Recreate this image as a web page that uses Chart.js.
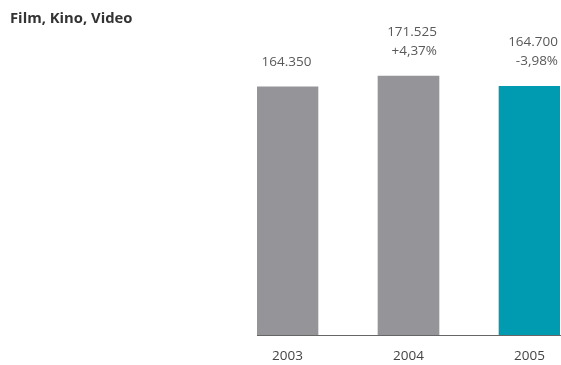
<!DOCTYPE html>
<html>
<head>
<meta charset="utf-8">
<script src="https://cdn.jsdelivr.net/npm/chart.js@4/dist/chart.umd.min.js"></script>
<style>
  html, body { margin: 0; padding: 0; background: #fff; }
  #wrap { width: 561px; height: 365px; position: relative; }
</style>
</head>
<body>
<div id="wrap"><canvas id="chart"></canvas></div>
<script>
// Data
const years = ['2003', '2004', '2005'];
const values = [164350, 171525, 164700];
const changes = ['', '+4,37%', '-3,98%'];
const barColors = ['#959498', '#959498', '#009bb0'];
const chartTitle = 'Film, Kino, Video';

function formatNumber(n) {
    return String(n).replace(/\B(?=(\d{3})+(?!\d))/g, '.');
}

// Title + value labels drawn on the canvas
const labelPlugin = {
    id: 'labels',
    afterDraw(chart) {
        const ctx = chart.ctx;
        ctx.save();
        ctx.fillStyle = '#333';
        ctx.font = 'bold 14.8px "Open Sans"';
        ctx.textBaseline = 'middle';
        ctx.textAlign = 'left';
        ctx.fillText(chartTitle, 10, 19);

        ctx.font = '13.5px "Open Sans"';
        ctx.fillStyle = '#595959';
        const meta = chart.getDatasetMeta(0);
        meta.data.forEach((bar, i) => {
            const text = formatNumber(values[i]);
            if (changes[i]) {
                ctx.textAlign = 'right';
                const rx = bar.x + 28.5;
                ctx.fillText(changes[i], rx, bar.y - 25);
                ctx.fillText(text, rx, bar.y - 44);
            } else {
                ctx.textAlign = 'center';
                ctx.fillText(text, bar.x - 1, bar.y - 25);
            }
        });
        ctx.restore();
    }
};

new Chart(document.getElementById('chart'), {
    type: 'bar',
    data: {
        datasets: [{
            data: values.map((v, i) => ({ x: i, y: v })),
            backgroundColor: barColors,
            barThickness: 61,
            borderWidth: 0
        }]
    },
    options: {
        responsive: true,
        maintainAspectRatio: false,
        animation: false,
        layout: { padding: { left: 257, right: 1, top: 18, bottom: 0 } },
        plugins: {
            legend: { display: false },
            tooltip: { enabled: false }
        },
        scales: {
            x: {
                type: 'linear',
                offset: false,
                min: -0.252,
                max: 2.252,
                afterBuildTicks(axis) {
                    axis.ticks = years.map((y, i) => ({ value: i }));
                },
                afterFit(axis) {
                    axis.height = 30;
                },
                grid: { display: false, drawTicks: false },
                border: { display: true, color: '#666', width: 1 },
                ticks: {
                    callback: (v) => years[v],
                    color: '#444',
                    font: { family: 'Open Sans', size: 13.5 },
                    padding: 13
                }
            },
            y: {
                display: false,
                min: 0,
                max: 210000
            }
        }
    },
    plugins: [labelPlugin]
});
</script>
</body>
</html>
